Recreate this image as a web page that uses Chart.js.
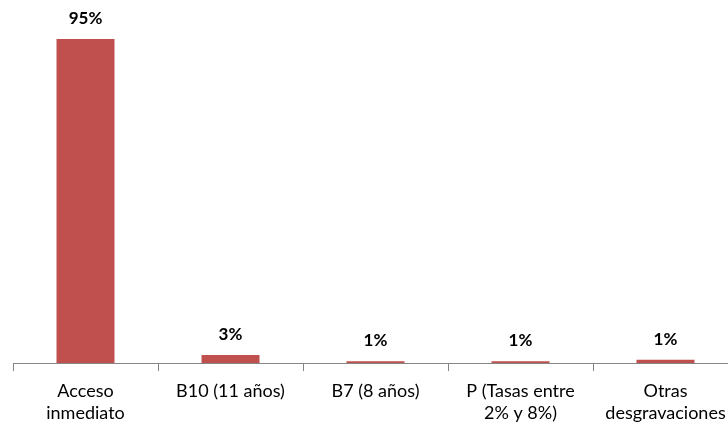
<!DOCTYPE html>
<html>
<head>
<meta charset="utf-8">
<script src="https://cdn.jsdelivr.net/npm/chart.js@4/dist/chart.umd.min.js"></script>
<style>
  html, body { margin: 0; padding: 0; background: #fff; overflow: hidden; }
  #wrap { width: 742px; height: 429px; }
</style>
</head>
<body>
<div id="wrap"><canvas id="myChart"></canvas></div>
<script>
// datos
const categorias = [["Acceso", "inmediato"], "B10 (11 años)", "B7 (8 años)", ["P (Tasas entre", "2% y 8%)"], ["Otras", "desgravaciones"]];
const valores = [95, 2.4, 0.5, 0.5, 1.0];
const etiquetas = ["95%", "3%", "1%", "1%", "1%"];

// plugin sencillo para dibujar las etiquetas sobre las barras
const etiquetasPlugin = {
  id: "etiquetas",
  afterDatasetsDraw(chart) {
    const ctx = chart.ctx;
    const meta = chart.getDatasetMeta(0);
    ctx.save();
    ctx.font = "bold 17px Lato";
    ctx.fillStyle = "#000";
    ctx.textAlign = "center";
    ctx.textBaseline = "alphabetic";
    meta.data.forEach((bar, i) => {
      ctx.fillText(etiquetas[i], bar.x, bar.y - 15);
    });
    ctx.restore();
  }
};

new Chart(document.getElementById("myChart").getContext("2d"), {
  type: "bar",
  data: {
    labels: categorias,
    datasets: [{
      data: valores,
      backgroundColor: "#C0504D",
      barPercentage: 0.4,
      categoryPercentage: 1
    }]
  },
  options: {
    responsive: true,
    maintainAspectRatio: false,
    animation: false,
    layout: { padding: { left: 13, right: 4, top: 22, bottom: -4 } },
    plugins: { legend: { display: false }, tooltip: { enabled: false } },
    scales: {
      x: {
        offset: true,
        grid: { display: true, drawOnChartArea: false, color: "#868686", tickLength: 8, offset: true },
        border: { color: "#868686" },
        ticks: { color: "#000", font: { family: "Lato", size: 18, lineHeight: 1.22 }, maxRotation: 0, autoSkip: false, padding: 9 }
      },
      y: {
        display: false,
        min: 0,
        max: 100
      }
    }
  },
  plugins: [etiquetasPlugin]
});
</script>
</body>
</html>
